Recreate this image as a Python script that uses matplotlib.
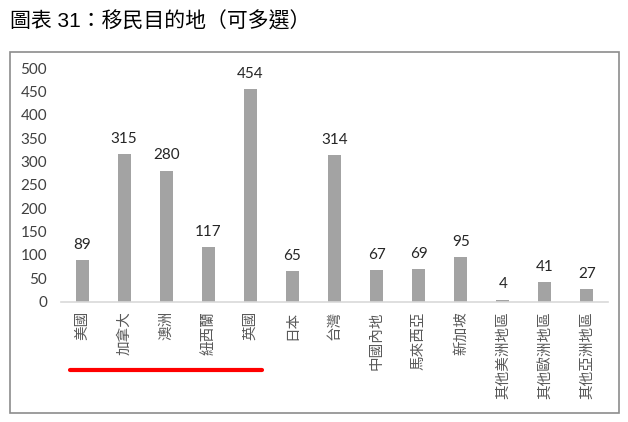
import numpy as np
import matplotlib
matplotlib.use('Agg')
import matplotlib.pyplot as plt
from matplotlib.patches import Rectangle
import matplotlib.transforms as mtransforms

# datos del gráfico
categorias = ['美國', '加拿大', '澳洲', '紐西蘭', '英國', '日本', '台灣', '中國內地',
              '馬來西亞', '新加坡', '其他美洲地區', '其他歐洲地區', '其他亞洲地區']
valores = [89, 315, 280, 117, 454, 65, 314, 67, 69, 95, 4, 41, 27]
yticks = [0, 50, 100, 150, 200, 250, 300, 350, 400, 450, 500]

cjk = ['Noto Sans CJK TC', 'DejaVu Sans']
num = ['Lato', 'DejaVu Sans']

fig = plt.figure(figsize=(6.28, 4.22), dpi=100)

# marco del gráfico
fig.patches.append(Rectangle((10/628, 1-413/422), 609/628, 361/422,
                             transform=fig.transFigure, fill=False,
                             edgecolor='#8c8c8c', linewidth=1.2))

fig.text(10/628, 1-21/422, '圖表 31：移民目的地（可多選）', fontsize=15,
         family=['Liberation Sans', 'Noto Sans CJK TC'], va='center', ha='left',
         color='black')

ax = fig.add_axes([61/628, 1-301.5/422, 547/628, 233.5/422])
x = np.arange(len(categorias))
ax.bar(x, valores, width=0.31, color='#a3a3a3')
ax.set_xlim(-0.5, len(categorias)-0.5)
ax.set_ylim(0, 500)
ax.set_yticks(yticks)
ax.set_yticklabels([str(v) for v in yticks], family=num, fontsize=11, color='#404040')
ax.set_xticks(x)
ax.set_xticklabels(categorias, rotation=90, family=cjk, fontsize=10.5,
                   color='#595959', va='top', ha='center')
ax.tick_params(axis='both', length=0)
ax.tick_params(axis='y', pad=10)
ax.tick_params(axis='x', pad=7)
for s in ['top', 'right', 'left']:
    ax.spines[s].set_visible(False)
ax.spines['bottom'].set_color('#d9d9d9')
ax.spines['bottom'].set_linewidth(1.2)

for xi, v in zip(x, valores):
    ax.annotate(str(v), (xi, v), xytext=(0, 6), textcoords='offset points',
                ha='center', va='bottom', family=num, fontsize=11, color='#262626')

# línea roja bajo los cinco primeros
trans = mtransforms.blended_transform_factory(ax.transData, fig.transFigure)
ax.plot([-0.29, 4.28], [1-370/422, 1-370/422], color='#ff0000', linewidth=3,
        solid_capstyle='round', transform=trans, clip_on=False)

fig.savefig('out.png', dpi=100)
